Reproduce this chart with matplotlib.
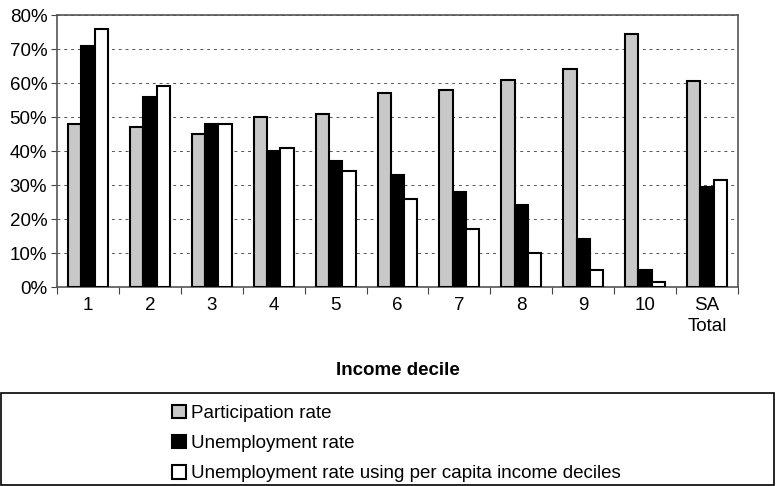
import numpy as np
import matplotlib.pyplot as plt
from matplotlib.patches import Rectangle
from matplotlib.ticker import PercentFormatter

plt.rcParams['font.family'] = ['Liberation Sans', 'DejaVu Sans']

# Data (percent)
deciles = ["1", "2", "3", "4", "5", "6", "7", "8", "9", "10", "SA\nTotal"]
participation = [48, 47, 45, 50, 51, 57, 58, 61, 64, 74.5, 60.5]
unemployment = [71, 56, 48, 40, 37, 33, 28, 24, 14, 5, 29.5]
unemp_per_capita = [76, 59, 48, 41, 34, 26, 17, 10, 5, 1.5, 31.5]

W, H = 776, 486
fig = plt.figure(figsize=(W / 100, H / 100), dpi=100)
ax = fig.add_axes([57 / W, 1 - 287 / H, (738 - 57) / W, (287 - 15) / H])

x = np.arange(len(deciles))
bw = 0.215
ax.bar(x - bw, participation, bw, color="#c8c8c8", edgecolor="black", linewidth=1.5,
       label="Participation rate", zorder=3)
ax.bar(x, unemployment, bw, color="black", edgecolor="black", linewidth=1.5,
       label="Unemployment rate", zorder=3)
ax.bar(x + bw, unemp_per_capita, bw, color="white", edgecolor="black", linewidth=1.5,
       label="Unemployment rate using per capita income deciles", zorder=3)

ax.set_xlim(-0.5, len(deciles) - 0.5)
ax.set_ylim(0, 80)
ax.set_yticks(np.arange(0, 81, 10))
ax.yaxis.set_major_formatter(PercentFormatter(decimals=0))
ax.grid(axis="y", color="#555555", linestyle=(0, (3, 4)), linewidth=0.7, zorder=0)

# category labels between boundary ticks
ax.set_xticks(np.arange(-0.5, len(deciles)), minor=False)
ax.set_xticklabels([])
ax.set_xticks(x, minor=True)
ax.set_xticklabels(deciles, minor=True, fontsize=13.5, va="top", linespacing=1.3)
ax.tick_params(axis="x", which="minor", length=0, pad=7)
ax.tick_params(axis="x", which="major", length=5, color="#444444")
ax.tick_params(axis="y", labelsize=13.5, length=4, color="#444444", pad=3)

for side in ["top", "right", "left", "bottom"]:
    ax.spines[side].set_color("#555555")
    ax.spines[side].set_linewidth(1.2)

ax.set_xlabel("Income decile", fontsize=13.5, fontweight="bold", labelpad=20)

# legend box spanning the figure width
fig.patches.append(Rectangle((0.001, 0.002), 0.997, (485 - 393) / H, transform=fig.transFigure,
                             facecolor="none", edgecolor="black", linewidth=1.2))
fig.legend(loc="upper left", bbox_to_anchor=(164 / W, 1 - 397 / H), frameon=False,
           fontsize=13.5, handlelength=0.75, handleheight=0.75, handletextpad=0.3,
           labelspacing=0.68, borderaxespad=0)

fig.savefig("out.png", dpi=100)
